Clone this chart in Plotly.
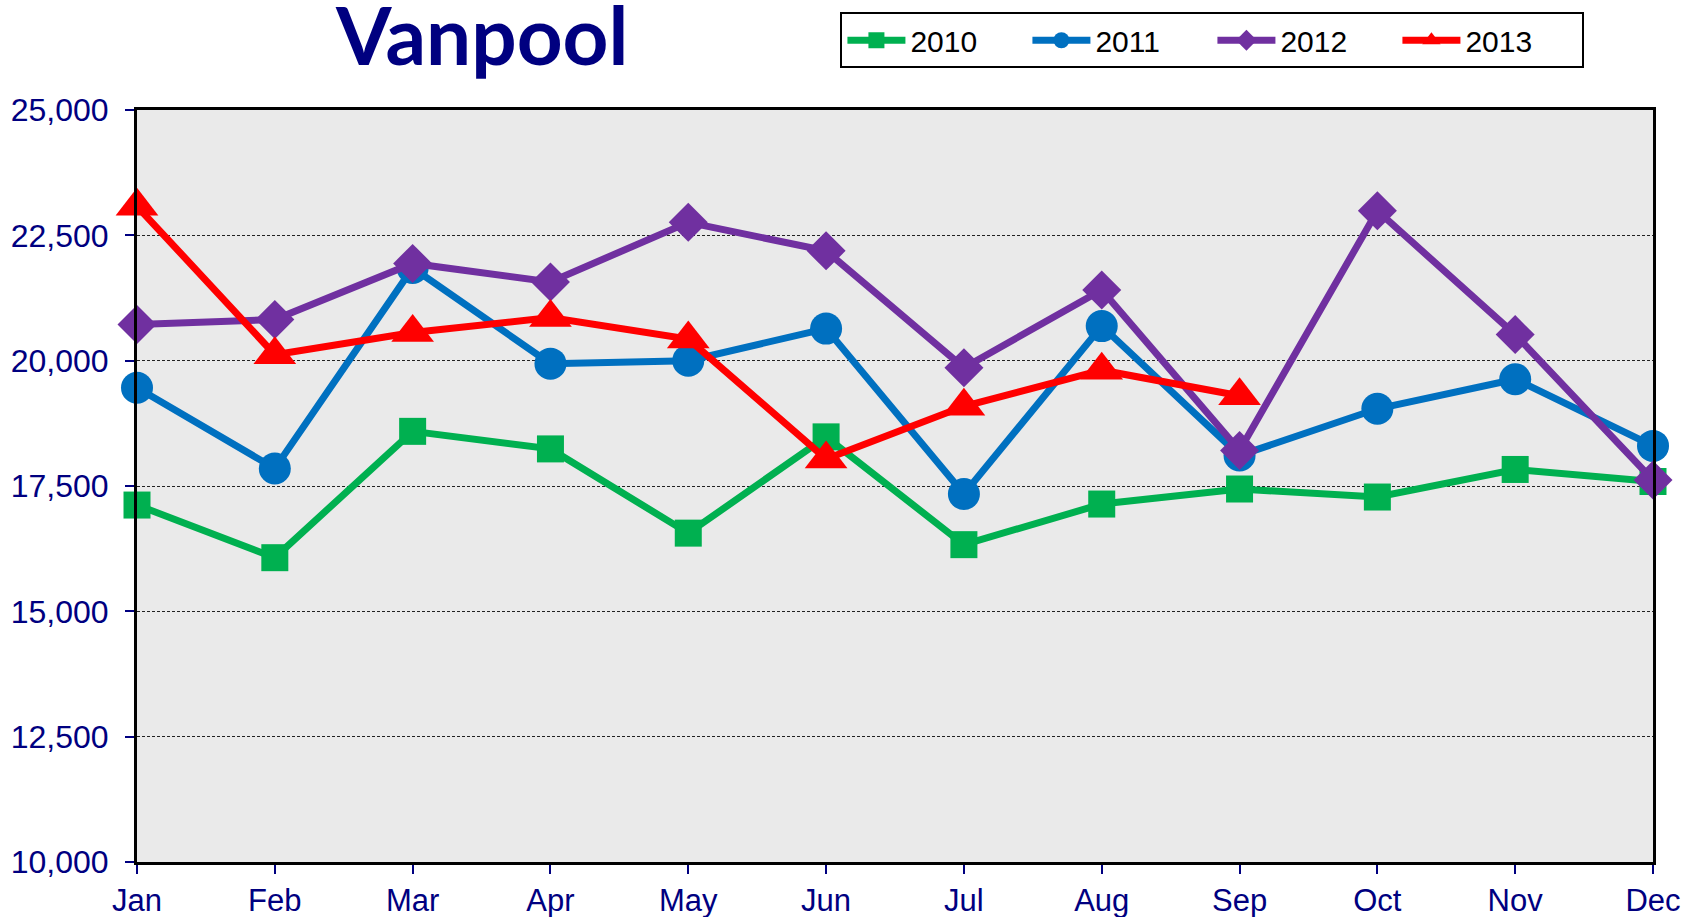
import plotly.graph_objects as go

months = ["Jan", "Feb", "Mar", "Apr", "May", "Jun", "Jul", "Aug", "Sep", "Oct", "Nov", "Dec"]
v2010 = [17120, 16070, 18590, 18240, 16560, 18480, 16330, 17140, 17440, 17280, 17830, 17590]
v2011 = [19460, 17850, 21850, 19940, 20000, 20640, 17340, 20690, 18110, 19040, 19630, 18300]
v2012 = [20720, 20820, 21940, 21570, 22760, 22190, 19860, 21410, 18210, 22990, 20520, 17620]
v2013 = [23080, 20120, 20560, 20860, 20430, 18040, 19090, 19810, 19300]
ytick_vals = [10000, 12500, 15000, 17500, 20000, 22500, 25000]

NAVY = "#000080"
series = [
    ("2010", v2010, "#00B050", "square", 27),
    ("2011", v2011, "#0070C0", "circle", 32),
    ("2012", v2012, "#7030A0", "diamond", 30),
    ("2013", v2013, "#FF0000", "triangle-up", 37),
]

fig = go.Figure()
for name, vals, color, sym, size in series:
    fig.add_trace(go.Scatter(
        x=months[:len(vals)], y=vals, name=name, mode="lines+markers",
        line=dict(color=color, width=7),
        marker=dict(symbol=sym, size=size, color=color, line=dict(width=0)),
        cliponaxis=False,
    ))

fig.add_annotation(
    text="<b>Vanpool</b>", xref="paper", yref="paper", x=0.227, y=1.035,
    xanchor="center", yanchor="bottom", showarrow=False,
    font=dict(family="Lato, Open Sans, sans-serif", size=80, color=NAVY, weight=900),
)

fig.update_layout(
    width=1699, height=917,
    margin=dict(l=137, r=46, t=103, b=55),
    paper_bgcolor="white",
    plot_bgcolor="#eaeaea",
    showlegend=True,
    legend=dict(
        orientation="h", x=0.464, y=1.13, xanchor="left", yanchor="top",
        bgcolor="white", bordercolor="black", borderwidth=2,
        font=dict(family="Liberation Sans Narrow, Arial Narrow, Liberation Sans, Arial", size=30, color="black"),
        entrywidth=112, itemwidth=58,
    ),
    xaxis=dict(
        type="category", range=[0, 11], showgrid=False, automargin=False,
        showline=True, linecolor="black", linewidth=3, mirror=True,
        ticks="outside", ticklen=9, tickwidth=1.5, tickcolor=NAVY,
        tickfont=dict(family="Liberation Sans, Arial", size=31, color=NAVY),
        ticklabelstandoff=0,
    ),
    yaxis=dict(
        range=[10000, 25000], tickvals=ytick_vals, tickformat=",", automargin=False,
        showgrid=True, gridcolor="#222222", gridwidth=1, griddash="3px,2px",
        showline=True, linecolor="black", linewidth=3, mirror=True,
        ticks="outside", ticklen=9, tickwidth=1.5, tickcolor=NAVY,
        tickfont=dict(family="Liberation Sans, Arial", size=32, color=NAVY),
        ticklabelstandoff=10, zeroline=False,
    ),
)

fig.write_html("out.html", config={"displayModeBar": False},
               post_script="document.body.style.margin='0';")
